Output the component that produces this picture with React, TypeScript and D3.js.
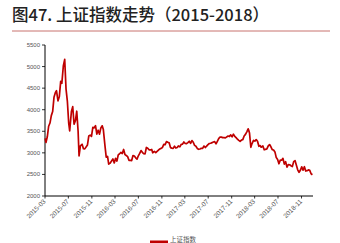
import React from "react";
import * as d3 from "d3";

const dates: string[] = [
  "2015-03-02","2015-03-06","2015-03-13","2015-03-20","2015-03-27","2015-04-03","2015-04-10","2015-04-17","2015-04-24","2015-04-30",
  "2015-05-08","2015-05-15","2015-05-22","2015-05-28","2015-06-05","2015-06-12","2015-06-19","2015-06-26","2015-07-03","2015-07-08",
  "2015-07-17","2015-07-24","2015-07-31","2015-08-07","2015-08-14","2015-08-21","2015-08-26","2015-09-02","2015-09-11","2015-09-18",
  "2015-09-25","2015-10-09","2015-10-16","2015-10-23","2015-10-30","2015-11-06","2015-11-13","2015-11-20","2015-11-27","2015-12-04",
  "2015-12-11","2015-12-18","2015-12-25","2015-12-31","2016-01-08","2016-01-15","2016-01-22","2016-01-28","2016-02-05","2016-02-19",
  "2016-02-26","2016-03-04","2016-03-11","2016-03-18","2016-03-25","2016-04-01","2016-04-08","2016-04-15","2016-04-22","2016-04-29",
  "2016-05-06","2016-05-13","2016-05-20","2016-05-27","2016-06-03","2016-06-10","2016-06-17","2016-06-24","2016-07-01","2016-07-08",
  "2016-07-15","2016-07-22","2016-07-29","2016-08-05","2016-08-12","2016-08-19","2016-08-26","2016-09-02","2016-09-09","2016-09-14",
  "2016-09-23","2016-09-30","2016-10-14","2016-10-21","2016-10-28","2016-11-04","2016-11-11","2016-11-18","2016-11-25","2016-12-02",
  "2016-12-09","2016-12-16","2016-12-23","2016-12-30","2017-01-06","2017-01-13","2017-01-20","2017-01-26","2017-02-03","2017-02-10",
  "2017-02-17","2017-02-24","2017-03-03","2017-03-10","2017-03-17","2017-03-24","2017-03-31","2017-04-07","2017-04-14","2017-04-21",
  "2017-04-28","2017-05-05","2017-05-12","2017-05-19","2017-05-26","2017-06-02","2017-06-09","2017-06-16","2017-06-23","2017-06-30",
  "2017-07-07","2017-07-14","2017-07-21","2017-07-28","2017-08-04","2017-08-11","2017-08-18","2017-08-25","2017-09-01","2017-09-08",
  "2017-09-15","2017-09-22","2017-09-29","2017-10-13","2017-10-20","2017-10-27","2017-11-03","2017-11-10","2017-11-17","2017-11-24",
  "2017-12-01","2017-12-08","2017-12-15","2017-12-22","2017-12-29","2018-01-05","2018-01-12","2018-01-19","2018-01-26","2018-01-29",
  "2018-02-02","2018-02-09","2018-02-14","2018-02-23","2018-03-02","2018-03-09","2018-03-16","2018-03-23","2018-03-30","2018-04-04",
  "2018-04-13","2018-04-20","2018-04-27","2018-05-04","2018-05-11","2018-05-18","2018-05-25","2018-06-01","2018-06-08","2018-06-15",
  "2018-06-22","2018-06-29","2018-07-06","2018-07-13","2018-07-20","2018-07-27","2018-08-03","2018-08-10","2018-08-17","2018-08-24",
  "2018-08-31","2018-09-07","2018-09-14","2018-09-21","2018-09-28","2018-10-12","2018-10-19","2018-10-26","2018-11-02","2018-11-09",
  "2018-11-16","2018-11-23","2018-11-30","2018-12-07","2018-12-14","2018-12-21","2018-12-28"
];

const values: number[] = [
  3336,3241,3372,3617,3691,3863,3957,4287,4393,4441,
  4205,4308,4658,4611,5023,5166,4478,4192,3686,3507,
  3957,4070,3663,3744,3965,3507,2927,3160,3200,3097,
  3092,3183,3391,3412,3383,3590,3580,3630,3436,3525,
  3434,3578,3627,3539,3186,2900,2916,2738,2763,2860,
  2767,2874,2810,2955,2979,3009,2985,3078,2960,2938,
  2913,2827,2825,2821,2938,2927,2885,2854,2932,2988,
  3054,3012,2979,2976,3125,3108,3070,3067,3078,3002,
  3033,3004,3063,3090,3104,3125,3196,3192,3262,3244,
  3232,3122,3110,3104,3154,3112,3123,3159,3140,3196,
  3202,3253,3218,3212,3237,3269,3222,3286,3246,3173,
  3154,3103,3083,3090,3107,3105,3158,3123,3157,3192,
  3217,3222,3237,3253,3262,3208,3268,3331,3367,3365,
  3353,3352,3348,3390,3378,3416,3371,3432,3382,3353,
  3317,3289,3266,3297,3307,3391,3429,3487,3558,3523,
  3462,3129,3199,3289,3273,3307,3269,3152,3169,3131,
  3159,3071,3082,3091,3163,3193,3141,3075,3067,3022,
  2890,2847,2747,2831,2829,2873,2740,2795,2669,2729,
  2725,2702,2682,2797,2821,2606,2550,2598,2676,2599,
  2679,2579,2588,2605,2594,2516,2494
];

const yTicks: number[] = [2000, 2500, 3000, 3500, 4000, 4500, 5000, 5500];
const xTickLabels: string[] = [
  "2015-03","2015-07","2015-11","2016-03","2016-07","2016-11",
  "2017-03","2017-07","2017-11","2018-03","2018-07","2018-11"
];

const title = "图47. 上证指数走势（2015-2018）";
const seriesName = "上证指数";

export default function App() {
  const W = 340, H = 243;
  const left = 45, right = 313, top = 45, bottom = 196;
  const parse = d3.timeParse("%Y-%m-%d");
  const parseM = d3.timeParse("%Y-%m");
  const x = d3.scaleTime()
    .domain([parse("2015-03-01")!, parse("2018-12-31")!])
    .range([left, right]);
  const y = d3.scaleLinear().domain([2000, 5500]).range([bottom, top]);
  const pts = dates.map((d, i) => [x(parse(d)!), y(values[i])] as [number, number]);
  const line = d3.line().curve(d3.curveLinear)(pts) || "";
  const font = "Liberation Sans, Arial, sans-serif";

  return (
    <svg width={W} height={H} style={{ position: "absolute", left: 0, top: 0, background: "#fff" }}>
      <text x={12} y={21} fontFamily="Noto Sans CJK SC" fontSize={16.5} fontWeight={500} fill="#222">{title}</text>
      <line x1={12} x2={330} y1={31} y2={31} stroke="#c8736f" strokeWidth={1} />
      {yTicks.map(t => (
        <g key={t}>
          <line x1={left - 3} x2={left} y1={y(t)} y2={y(t)} stroke="#000" strokeWidth={0.8} />
          <text x={left - 5} y={y(t) + 2} textAnchor="end" fontFamily={font} fontSize={6} fill="#555">{t}</text>
        </g>
      ))}
      <line x1={left} x2={left} y1={top} y2={bottom} stroke="#000" strokeWidth={1} />
      <line x1={left} x2={right} y1={bottom} y2={bottom} stroke="#000" strokeWidth={1} />
      {xTickLabels.map(lbl => {
        const xp = x(parseM(lbl)!);
        return (
          <g key={lbl}>
            <line x1={xp} x2={xp} y1={bottom} y2={bottom + 2.5} stroke="#000" strokeWidth={0.8} />
            <text transform={`translate(${xp + 1},${bottom + 6}) rotate(-45)`} textAnchor="end"
              fontFamily={font} fontSize={6.5} fill="#555">{lbl}</text>
          </g>
        );
      })}
      <path d={line} fill="none" stroke="#bf0000" strokeWidth={1.7} strokeLinejoin="round" />
      <rect x={150} y={240.5} width={18} height={6} fill="#bf0000" />
      <text x={170} y={241.5} fontFamily="Noto Sans CJK SC" fontSize={6.5} fill="#555">{seriesName}</text>
    </svg>
  );
}
